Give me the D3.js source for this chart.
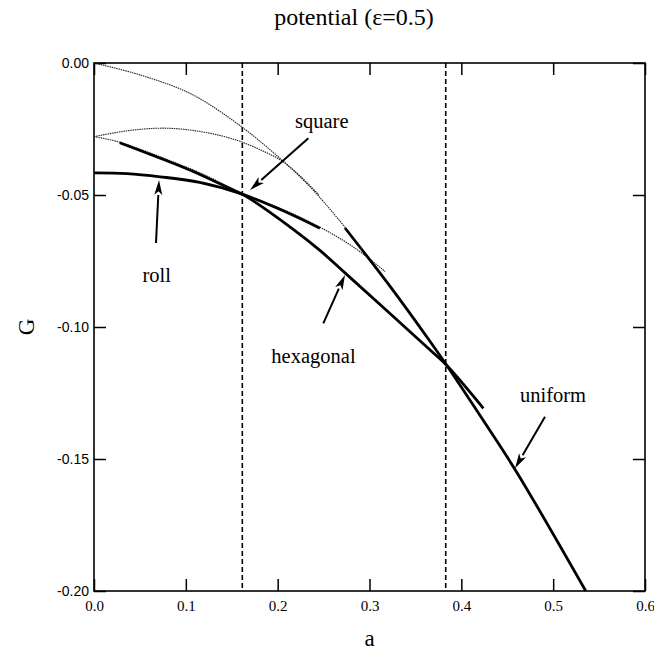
<!DOCTYPE html>
<html>
<head>
<meta charset="utf-8">
<script src="https://cdn.jsdelivr.net/npm/d3@7"></script>
<style>
  html, body { margin: 0; padding: 0; background: #fff; }
  svg { display: block; }
</style>
</head>
<body>
<svg id="chart" width="654" height="651"></svg>
<script>
// ---- data (a, G) ----
const uniformThin = [[0,0],[0.05,-0.0045],[0.1045,-0.0115],[0.1554,-0.0228],[0.2025,-0.0361],[0.2385,-0.0481],[0.2788,-0.0645]];
const uniformThick = [[0.2733,-0.0625],[0.32,-0.0835],[0.366,-0.1055],[0.384,-0.1145],[0.4222,-0.1345],[0.4603,-0.155],[0.5355,-0.2]];
const rollThick = [[0,-0.0416],[0.036,-0.0419],[0.072,-0.0431],[0.115,-0.0452],[0.159,-0.0494],[0.206,-0.0560],[0.246,-0.0626]];
const hexUpperThin = [[0,-0.0279],[0.04,-0.0255],[0.079,-0.0247],[0.12,-0.0262],[0.155,-0.0292],[0.185,-0.0335],[0.206,-0.0374],[0.225,-0.0430],[0.245,-0.0500]];
const hexThick = [[0.028,-0.0302],[0.0937,-0.0390],[0.1154,-0.0422],[0.155,-0.0487],[0.166,-0.0506],[0.217,-0.0630],[0.246,-0.0710],[0.2733,-0.0795],[0.366,-0.1087],[0.384,-0.1145],[0.424,-0.1308]];
const squareThin = [[0,-0.0279],[0.028,-0.0300],[0.0937,-0.0385],[0.1154,-0.0416],[0.166,-0.0500],[0.206,-0.0555],[0.246,-0.0622],[0.275,-0.0680],[0.297,-0.0734],[0.317,-0.0790]];
const transitions = [0.1615, 0.383];
const xTicks = [0, 0.1, 0.2, 0.3, 0.4, 0.5, 0.6];
const yTicks = [0, -0.05, -0.10, -0.15, -0.20];
const labels = [
  {text: "roll", a: 0.0683, G: -0.0830, tail: [0.0675,-0.0682], tip: [0.0708,-0.0443]},
  {text: "square", a: 0.248, G: -0.0246, tail: [0.2334,-0.0285], tip: [0.1699,-0.0481]},
  {text: "hexagonal", a: 0.239, G: -0.1136, tail: [0.2497,-0.0986], tip: [0.2733,-0.0803]},
  {text: "uniform", a: 0.4998, G: -0.1284, tail: [0.4911,-0.134], tip: [0.4585,-0.1535]}
];
const title = "potential (ε=0.5)";

// ---- layout ----
const svg = d3.select("#chart");
const x = d3.scaleLinear().domain([0, 0.6]).range([94, 645]);
const y = d3.scaleLinear().domain([0, -0.2]).range([63, 591]);
const serif = "'Liberation Serif', 'Times New Roman', serif";
const sans = "'Liberation Sans', Arial, sans-serif";

const line = d3.line().x(d => x(d[0])).y(d => y(d[1])).curve(d3.curveCatmullRom.alpha(0.5));

// axes (inward ticks on all four sides)
const gB = svg.append("g").attr("transform", `translate(0,${y(-0.2)})`)
  .call(d3.axisBottom(x).tickValues(xTicks).tickSizeInner(-12).tickSizeOuter(0).tickPadding(9).tickFormat(d => d.toFixed(1)));
gB.selectAll("text").attr("font-family", serif).attr("font-size", 15).attr("fill", "#000");
const gL = svg.append("g").attr("transform", `translate(${x(0)},0)`)
  .call(d3.axisLeft(y).tickValues(yTicks).tickSizeInner(-12).tickSizeOuter(0).tickPadding(5).tickFormat(d => d.toFixed(2)));
gL.selectAll("text").attr("font-family", sans).attr("font-size", 14).attr("fill", "#000");
svg.append("g").attr("transform", `translate(0,${y(0)})`)
  .call(d3.axisTop(x).tickValues(xTicks).tickSizeInner(-12).tickSizeOuter(0).tickFormat(""));
svg.append("g").attr("transform", `translate(${x(0.6)},0)`)
  .call(d3.axisRight(y).tickValues(yTicks).tickSizeInner(-12).tickSizeOuter(0).tickFormat(""));
svg.selectAll(".domain").remove();
svg.selectAll(".tick line").attr("stroke", "#000").attr("stroke-width", 1.5);

// frame
svg.append("rect").attr("x", x(0)).attr("y", y(0))
  .attr("width", x(0.6) - x(0)).attr("height", y(-0.2) - y(0))
  .attr("fill", "none").attr("stroke", "#000").attr("stroke-width", 1.6);

// dashed transition lines
svg.selectAll(".trans").data(transitions).enter().append("line")
  .attr("x1", d => x(d)).attr("x2", d => x(d)).attr("y1", y(0)).attr("y2", y(-0.2))
  .attr("stroke", "#000").attr("stroke-width", 1.6).attr("stroke-dasharray", "5,3");

// thin (dotted) branches
[uniformThin, hexUpperThin, squareThin].forEach(d => {
  svg.append("path").attr("d", line(d)).attr("fill", "none")
    .attr("stroke", "#222").attr("stroke-width", 1.1).attr("stroke-dasharray", "1.5,0.8");
});
// thick branches
[uniformThick, rollThick, hexThick].forEach(d => {
  svg.append("path").attr("d", line(d)).attr("fill", "none")
    .attr("stroke", "#000").attr("stroke-width", 2.8).attr("stroke-linecap", "butt");
});

// annotations with arrows
labels.forEach(l => {
  const x1 = x(l.tail[0]), y1 = y(l.tail[1]), x2 = x(l.tip[0]), y2 = y(l.tip[1]);
  const ang = Math.atan2(y2 - y1, x2 - x1);
  const hl = 15, hw = 4;
  const bx = x2 - hl * Math.cos(ang), by = y2 - hl * Math.sin(ang);
  svg.append("line").attr("x1", x1).attr("y1", y1).attr("x2", bx).attr("y2", by)
    .attr("stroke", "#000").attr("stroke-width", 2);
  const px = -Math.sin(ang) * hw, py = Math.cos(ang) * hw;
  svg.append("path")
    .attr("d", `M${x2},${y2}L${bx + px},${by + py}L${bx + 0.25*hl*Math.cos(ang)},${by + 0.25*hl*Math.sin(ang)}L${bx - px},${by - py}Z`)
    .attr("fill", "#000");
  svg.append("text").attr("x", x(l.a)).attr("y", y(l.G)).attr("text-anchor", "middle")
    .attr("font-family", serif).attr("font-size", 20.5).attr("fill", "#000").text(l.text);
});

// titles
svg.append("text").attr("x", 354).attr("y", 25).attr("text-anchor", "middle")
  .attr("font-family", serif).attr("font-size", 24).attr("fill", "#000").text(title);
svg.append("text").attr("x", (x(0) + x(0.6)) / 2).attr("y", 646).attr("text-anchor", "middle")
  .attr("font-family", serif).attr("font-size", 23).attr("fill", "#000").text("a");
svg.append("text").attr("transform", `translate(34,${(y(0) + y(-0.2)) / 2}) rotate(-90)`)
  .attr("text-anchor", "middle").attr("font-family", serif).attr("font-size", 23).attr("fill", "#000").text("G");
</script>
</body>
</html>
